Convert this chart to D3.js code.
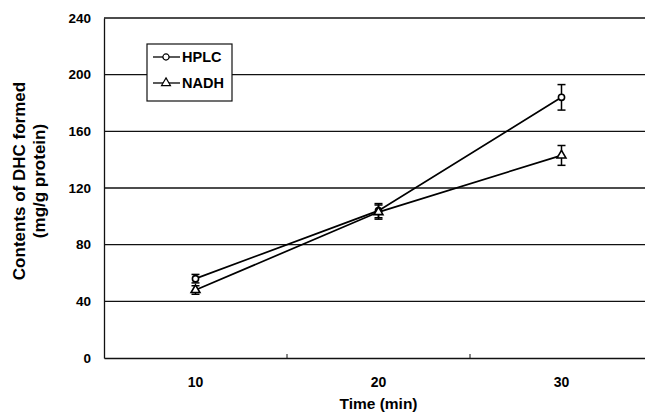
<!DOCTYPE html>
<html>
<head>
<meta charset="utf-8">
<script src="https://cdn.jsdelivr.net/npm/d3@7"></script>
<style>
  body { margin: 0; background: #fff; }
  text { font-family: "Liberation Sans", Arial, sans-serif; font-weight: bold; fill: #000; }
</style>
</head>
<body>
<svg id="chart" width="645" height="414"></svg>
<script>
// data
const times = [10, 20, 30];
const hplc = [56, 104, 184];
const hplcErr = [3, 5, 9];
const nadh = [48, 103, 143];
const nadhErr = [3, 5, 7];
const yTicks = [0, 40, 80, 120, 160, 200, 240];

const svg = d3.select('#chart');
const margin = { left: 104, top: 18, bottom: 358, right: 653 };

const x = d3.scaleBand()
    .domain(times)
    .range([margin.left, margin.right]);

const y = d3.scaleLinear()
    .domain([0, 240])
    .range([margin.bottom, margin.top]);

const cx = (t) => x(t) + x.bandwidth() / 2;

// gridlines
svg.append('g')
    .selectAll('line')
    .data(yTicks.filter((d) => d > 0))
    .enter()
    .append('line')
    .attr('x1', margin.left)
    .attr('x2', 645)
    .attr('y1', (d) => y(d))
    .attr('y2', (d) => y(d))
    .style('stroke', '#111')
    .style('stroke-width', 1.3);

// y axis
const yAxis = svg.append('g')
    .attr('transform', `translate(${margin.left},0)`)
    .call(d3.axisLeft(y).tickValues(yTicks).tickSize(0).tickPadding(13));
yAxis.select('.domain').style('stroke', '#111').style('stroke-width', 1.3);
yAxis.selectAll('text').style('font-size', '13.5px');

// x axis
const xAxis = svg.append('g')
    .attr('transform', `translate(0,${margin.bottom})`)
    .call(d3.axisBottom(x).tickSize(0).tickPadding(19));
xAxis.select('.domain').style('stroke', '#111').style('stroke-width', 1.3);
xAxis.selectAll('text').style('font-size', '14px');

// small ticks between categories
svg.append('g')
    .selectAll('line')
    .data(times.slice(1))
    .enter()
    .append('line')
    .attr('x1', (d) => x(d))
    .attr('x2', (d) => x(d))
    .attr('y1', margin.bottom)
    .attr('y2', margin.bottom - 4)
    .style('stroke', '#111');

// axis titles
svg.append('text')
    .attr('x', cx(20))
    .attr('y', 409)
    .attr('text-anchor', 'middle')
    .style('font-size', '15.5px')
    .text('Time (min)');

const yTitle = svg.append('text')
    .attr('transform', 'translate(0,181) rotate(-90)')
    .attr('text-anchor', 'middle')
    .style('font-size', '17px');
yTitle.append('tspan').attr('x', 0).attr('y', 25).text('Contents of DHC formed');
yTitle.append('tspan').attr('x', 0).attr('y', 45).text('(mg/g protein)');

const line = d3.line()
    .x((d, i) => cx(times[i]))
    .y((d) => y(d));

const drawSeries = (vals, errs, marker) => {
    const g = svg.append('g');
    g.append('path')
        .datum(vals)
        .attr('d', line)
        .style('fill', 'none')
        .style('stroke', '#000')
        .style('stroke-width', 1.7);

    const pts = g.selectAll('.pt')
        .data(vals)
        .enter()
        .append('g')
        .attr('class', 'pt')
        .attr('transform', (d, i) => `translate(${cx(times[i])},0)`);

    pts.append('line')
        .attr('y1', (d, i) => y(d + errs[i]))
        .attr('y2', (d, i) => y(d - errs[i]))
        .style('stroke', '#000')
        .style('stroke-width', 1.5);
    [1, -1].forEach((s) => {
        pts.append('line')
            .attr('x1', -4).attr('x2', 4)
            .attr('y1', (d, i) => y(d + s * errs[i]))
            .attr('y2', (d, i) => y(d + s * errs[i]))
            .style('stroke', '#000')
            .style('stroke-width', 1.5);
    });

    pts.append('path')
        .attr('transform', (d) => `translate(0,${y(d)})`)
        .attr('d', marker)
        .style('fill', '#fff')
        .style('stroke', '#000')
        .style('stroke-width', 1.6);
};

const circleMark = d3.symbol().type(d3.symbolCircle).size(30)();
const triMark = d3.symbol().type(d3.symbolTriangle).size(34)();

drawSeries(hplc, hplcErr, circleMark);
drawSeries(nadh, nadhErr, triMark);

// legend
const legend = svg.append('g');
legend.append('rect')
    .attr('x', 147).attr('y', 44)
    .attr('width', 85).attr('height', 57)
    .style('fill', '#fff')
    .style('stroke', '#111')
    .style('stroke-width', 1.2);

const legendItems = [
    { name: 'HPLC', mark: circleMark, y: 57 },
    { name: 'NADH', mark: triMark, y: 83 }
];
legendItems.forEach((it) => {
    legend.append('line')
        .attr('x1', 153).attr('x2', 180)
        .attr('y1', it.y).attr('y2', it.y)
        .style('stroke', '#000')
        .style('stroke-width', 1.3);
    legend.append('path')
        .attr('transform', `translate(166,${it.y})`)
        .attr('d', it.mark)
        .style('fill', '#fff')
        .style('stroke', '#000')
        .style('stroke-width', 1.2);
    legend.append('text')
        .attr('x', 182)
        .attr('y', it.y + 5)
        .style('font-size', '14.5px')
        .text(it.name);
});
</script>
</body>
</html>
